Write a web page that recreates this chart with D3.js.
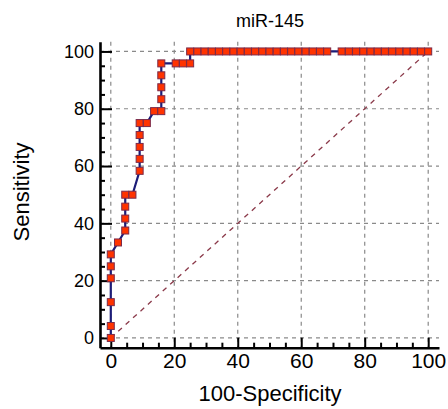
<!DOCTYPE html>
<html>
<head>
<meta charset="utf-8">
<script src="https://cdn.jsdelivr.net/npm/d3@7"></script>
<style>
body { margin: 0; background: #fff; }
text { font-family: "Liberation Sans", Arial, sans-serif; }
</style>
</head>
<body>
<script>
// ROC points: 100-Specificity (x) and Sensitivity (y)
var fpr = [0, 0, 0, 0, 0, 0, 2.27, 4.55, 4.55, 4.55, 4.55, 6.82, 9.09, 9.09, 9.09, 9.09, 9.09, 11.36,
  13.64, 15.91, 15.91, 15.91, 15.91, 15.91, 20.45, 22.73, 25,
  25, 27.27, 29.55, 31.82, 34.09, 36.36, 38.64, 40.91, 43.18, 45.45, 47.73, 50, 52.27, 54.55,
  56.82, 59.09, 61.36, 63.64, 65.91, 68.18, 72.73, 75, 77.27, 79.55, 81.82, 84.09, 86.36,
  88.64, 90.91, 93.18, 95.45, 97.73, 100];
var tpr = [0, 4.17, 12.5, 20.83, 25, 29.17, 33.33, 37.5, 41.67, 45.83, 50, 50, 58.33, 62.5, 66.67, 70.83, 75, 75,
  79.17, 79.17, 83.33, 87.5, 91.67, 95.83, 95.83, 95.83, 95.83,
  100, 100, 100, 100, 100, 100, 100, 100, 100, 100, 100, 100, 100, 100,
  100, 100, 100, 100, 100, 100, 100, 100, 100, 100, 100, 100, 100,
  100, 100, 100, 100, 100, 100];
var majorTicks = [0, 20, 40, 60, 80, 100];
var minorTicks = [5, 10, 15, 25, 30, 35, 45, 50, 55, 65, 70, 75, 85, 90, 95];
var chartTitle = "miR-145";
var xTitle = "100-Specificity";
var yTitle = "Sensitivity";

var data = fpr.map(function (d, i) { return { x: d, y: tpr[i] }; });

var svg = d3.select("body").append("svg")
    .attr("width", 448)
    .attr("height", 409);

var x = d3.scaleLinear().domain([-3.4, 103.4]).range([100, 439]);
var y = d3.scaleLinear().domain([-3.4, 103.4]).range([347.7, 41.7]);

// grid
svg.append("g").selectAll("line.gx")
    .data(majorTicks)
    .enter().append("line")
    .attr("x1", function (d) { return x(d); })
    .attr("x2", function (d) { return x(d); })
    .attr("y1", y(103.4)).attr("y2", y(-3.4))
    .attr("stroke", "#8a8a8a").attr("stroke-width", 1.2)
    .attr("stroke-dasharray", "4,4");
svg.append("g").selectAll("line.gy")
    .data(majorTicks)
    .enter().append("line")
    .attr("y1", function (d) { return y(d); })
    .attr("y2", function (d) { return y(d); })
    .attr("x1", x(-3.4)).attr("x2", x(103.4))
    .attr("stroke", "#8a8a8a").attr("stroke-width", 1.2)
    .attr("stroke-dasharray", "4,4");

// diagonal reference
svg.append("line")
    .attr("x1", x(0)).attr("y1", y(0))
    .attr("x2", x(100)).attr("y2", y(100))
    .attr("stroke", "#8b3a4a").attr("stroke-width", 1.3)
    .attr("stroke-dasharray", "5,5");

// axes
var xAxis = svg.append("g").attr("transform", "translate(0,347.7)")
    .call(d3.axisBottom(x).tickValues(majorTicks).tickSizeInner(-10).tickSizeOuter(0).tickPadding(5));
svg.append("g").attr("transform", "translate(0,347.7)")
    .call(d3.axisBottom(x).tickValues(minorTicks).tickSizeInner(-5).tickSizeOuter(0).tickFormat(""))
    .select(".domain").remove();
var yAxis = svg.append("g").attr("transform", "translate(100,0)")
    .call(d3.axisLeft(y).tickValues(majorTicks).tickSizeInner(-12).tickSizeOuter(0).tickPadding(6));
svg.append("g").attr("transform", "translate(100,0)")
    .call(d3.axisLeft(y).tickValues(minorTicks).tickSizeInner(-5).tickSizeOuter(0).tickFormat(""))
    .select(".domain").remove();

svg.selectAll(".domain").attr("stroke", "#000").attr("stroke-width", 2.6);
svg.selectAll(".tick line").attr("stroke", "#000").attr("stroke-width", 2);
xAxis.selectAll(".tick text").attr("font-size", 21).attr("fill", "#000");
yAxis.selectAll(".tick text").attr("font-size", 18).attr("fill", "#000");

// ROC curve
var line = d3.line()
    .x(function (d) { return x(d.x); })
    .y(function (d) { return y(d.y); });

svg.append("path")
    .attr("fill", "none")
    .attr("stroke", "#1c1c78")
    .attr("stroke-width", 2.2)
    .attr("d", line(data));

svg.selectAll("rect.pt")
    .data(data)
    .enter().append("rect")
    .attr("class", "pt")
    .attr("x", function (d) { return x(d.x) - 3.5; })
    .attr("y", function (d) { return y(d.y) - 3.5; })
    .attr("width", 7).attr("height", 7)
    .attr("fill", "#ff3300")
    .attr("stroke", "#7a2a4a")
    .attr("stroke-width", 1);

// titles
svg.append("text")
    .attr("x", 270).attr("y", 27)
    .attr("text-anchor", "middle")
    .attr("font-size", 18)
    .text(chartTitle);
svg.append("text")
    .attr("x", 270).attr("y", 401)
    .attr("text-anchor", "middle")
    .attr("font-size", 22)
    .text(xTitle);
svg.append("text")
    .attr("transform", "translate(29,192) rotate(-90)")
    .attr("text-anchor", "middle")
    .attr("font-size", 22)
    .text(yTitle);
</script>
</body>
</html>
